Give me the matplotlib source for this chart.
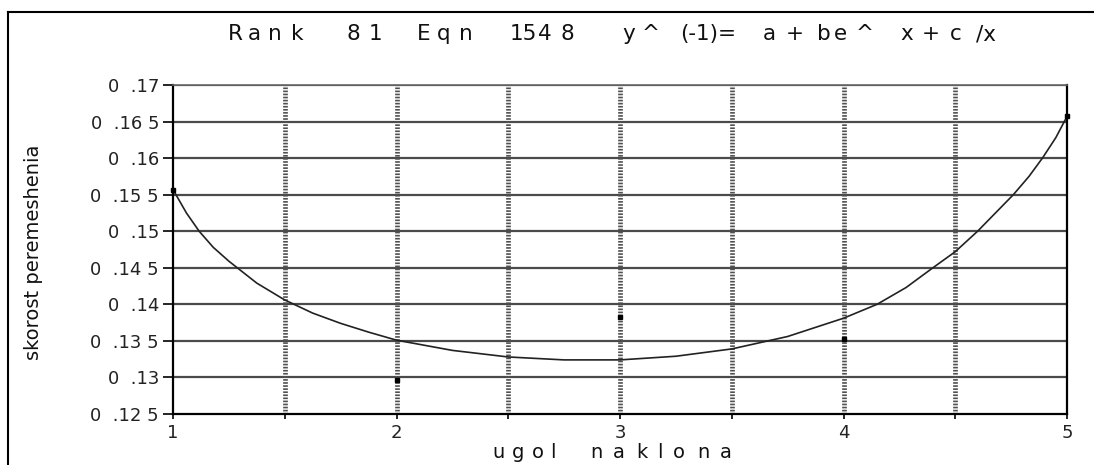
import matplotlib
matplotlib.use('Agg')
import matplotlib.pyplot as plt
from matplotlib.lines import Line2D

W, H = 1094, 465

# measured points
pts_x = [1, 2, 3, 4, 5]
pts_y = [0.1556, 0.1297, 0.1383, 0.1352, 0.1657]

# fitted curve
curve_x = [1.0, 1.06, 1.117, 1.18, 1.25, 1.375, 1.5, 1.625, 1.75, 1.875, 2.0, 2.25, 2.5, 2.75,
           3.0, 3.25, 3.5, 3.75, 4.0, 4.15, 4.28, 4.4, 4.5, 4.6, 4.68, 4.76, 4.83, 4.89, 4.95, 5.0]
curve_y = [0.1557, 0.1525, 0.1500, 0.1478, 0.1459, 0.1429, 0.1406, 0.1388, 0.1374, 0.1362,
           0.1351, 0.1337, 0.1328, 0.1324, 0.1324, 0.1329, 0.1339, 0.1356, 0.1381, 0.1400,
           0.1423, 0.1450, 0.1472, 0.1500, 0.1525, 0.1550, 0.1575, 0.1600, 0.1628, 0.1657]

yticks = [0.125, 0.13, 0.135, 0.14, 0.145, 0.15, 0.155, 0.16, 0.165, 0.17]
ytick_labels = ['0  .12 5', '0  .13', '0  .13 5', '0  .14', '0  .14 5', '0  .15',
                '0  .15 5', '0  .16', '0  .16 5', '0  .17']
xticks = [1, 1.5, 2, 2.5, 3, 3.5, 4, 4.5, 5]
xtick_labels = ['1', '', '2', '', '3', '', '4', '', '5']

# letter-spaced text: (left pixel, token)
title_tokens = [(228, 'R'), (248, 'a'), (268, 'n'), (291, 'k'), (347, '8'), (369, '1'),
                (417, 'E'), (437, 'q'), (459, 'n'), (510, '15'), (538, '4'), (560, '8'),
                (622, 'y'), (642, '^'), (680, '(-1)='), (763, 'a'), (786, '+'), (817, 'b'),
                (834, 'e'), (856, '^'), (900, 'x'), (922, '+'), (950, 'c'), (976, '/x')]
xlabel_tokens = [(492, 'u'), (512, 'g'), (532, 'o'), (550, 'l'), (590, 'n'), (613, 'a'),
                 (636, 'k'), (657, 'l'), (673, 'o'), (697, 'n'), (720, 'a')]
ylabel = 'skorost peremeshenia'


def spaced_text(fig, tokens, y_px, size):
    for x_px, s in tokens:
        fig.text(x_px / W, 1 - y_px / H, s, ha='left', va='baseline',
                 fontfamily='DejaVu Sans', fontsize=size, color='#111111')


fig = plt.figure(figsize=(W / 100, H / 100), dpi=100)
fig.patch.set_facecolor('white')
ax = fig.add_axes([173 / W, 1 - 414 / H, (1067 - 173) / W, (414 - 85) / H])

for y in yticks[1:]:
    ax.axhline(y, color='#4a4a4a', linewidth=1.6, zorder=1)
for x in xticks[1:-1]:
    ax.axvline(x, color='#505050', linewidth=3.4, linestyle=(0, (0.35, 0.3)), zorder=1)

ax.plot(curve_x, curve_y, color='#222222', linewidth=1.2, zorder=3)
ax.plot(pts_x, pts_y, linestyle='none', marker='s', markersize=2.8,
        color='black', zorder=4, clip_on=False)

ax.set_xlim(1, 5)
ax.set_ylim(0.125, 0.17)
ax.set_yticks(yticks)
ax.set_yticklabels(ytick_labels, fontfamily='DejaVu Sans', fontsize=13, color='#222222')
ax.set_xticks(xticks)
ax.set_xticklabels(xtick_labels, fontfamily='DejaVu Sans', fontsize=13, color='#222222')
ax.tick_params(axis='y', length=7, width=1.2, pad=3)
ax.tick_params(axis='x', length=3.5, width=1.2, pad=4)

for side in ['left', 'bottom']:
    ax.spines[side].set_linewidth(1.6)
    ax.spines[side].set_color('black')
ax.spines['top'].set_color('#666666')
ax.spines['top'].set_linewidth(1.2)
ax.spines['right'].set_color('black')
ax.spines['right'].set_linewidth(1.6)

spaced_text(fig, title_tokens, 40, 15.5)
spaced_text(fig, xlabel_tokens, 458, 14)
fig.text(34 / W, 1 - 252 / H, ylabel, rotation=90, ha='center', va='center',
         fontfamily='DejaVu Sans', fontsize=14, color='#111111')

# outer frame (left and top edges)
fig.add_artist(Line2D([8 / W, 8 / W], [0, 1 - 12 / H], color='black', linewidth=1.5))
fig.add_artist(Line2D([8 / W, 1], [1 - 12 / H, 1 - 12 / H], color='black', linewidth=1.5))

fig.savefig('out.png', dpi=100)
